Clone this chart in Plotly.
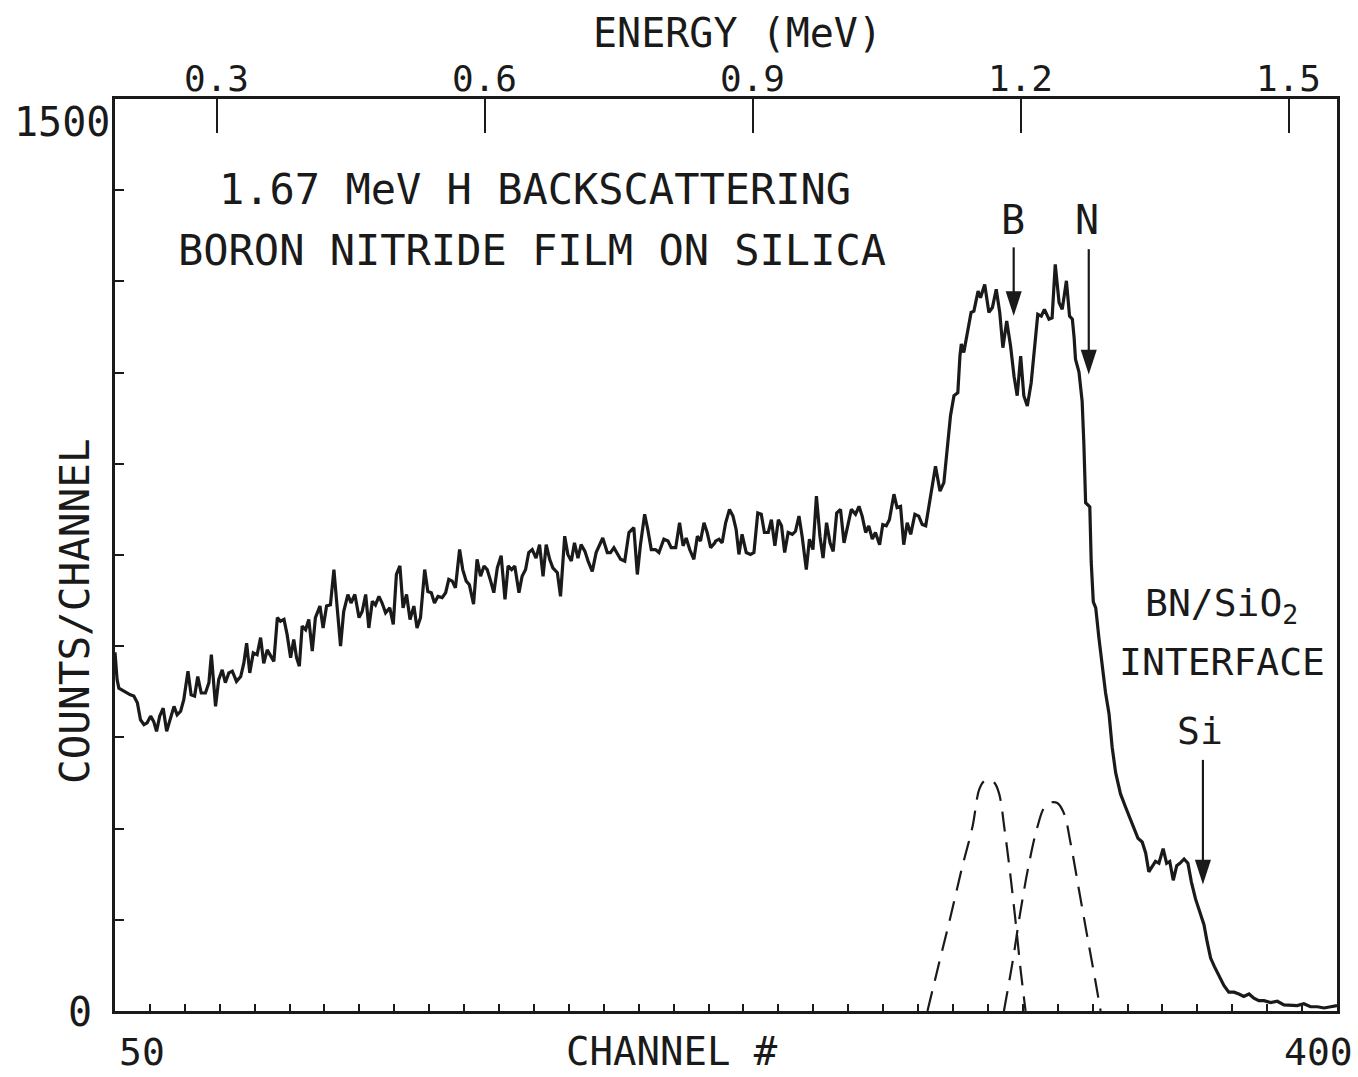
import plotly.graph_objects as go

# ---- measured spectrum (channel, counts/channel) ----
channels = [
    50.0, 50.6, 51.1, 52.5, 53.5, 54.4, 55.4, 56.4, 57.3, 58.3, 59.2, 60.2, 61.1, 61.9, 62.8, 63.8, 64.8, 65.7,
    66.9, 67.8, 68.8, 69.7, 70.9, 71.8, 72.8, 73.7, 74.7, 75.9, 76.9, 77.6, 78.8, 79.7, 80.7, 81.6, 82.6, 83.6,
    84.8, 86.0, 86.9, 87.7, 88.6, 89.6, 90.7, 91.7, 92.6, 93.6, 94.5, 95.5, 96.5, 97.4, 98.4, 99.3, 100.3, 101.2,
    102.0, 102.8, 103.6, 104.6, 105.5, 106.5, 107.4, 108.7, 109.6, 110.6, 111.7, 112.7, 113.6, 114.6, 115.5,
    116.7, 117.6, 118.7, 119.9, 120.8, 121.8, 122.7, 123.7, 124.6, 125.6, 126.5, 127.5, 128.7, 129.7, 130.6,
    131.6, 132.5, 133.5, 134.5, 135.6, 136.5, 137.5,
    138.7, 139.6, 140.6, 141.5, 142.5, 143.7, 144.7, 145.6, 146.6, 147.5, 148.7, 149.6, 150.6, 151.5, 152.7,
    153.7, 154.7, 155.7, 156.6, 157.6, 158.5, 159.5, 160.6, 161.7, 162.6, 163.6, 164.5, 165.7, 166.6, 167.6,
    168.5, 169.5, 170.6, 171.6, 172.6, 173.5, 174.5, 175.4, 176.7, 177.6, 178.8, 179.7, 180.7, 181.6, 182.6,
    183.5, 184.6, 185.5, 186.7, 187.8, 188.8, 189.7, 191.0, 191.9, 192.9, 193.9, 194.8, 196.0, 197.2, 198.6,
    199.6, 200.5, 201.7, 202.6, 203.6, 204.8, 205.8, 207.2, 208.4, 209.3, 210.6, 211.7, 212.7, 213.6, 214.6,
    215.8, 216.8, 217.7, 218.7, 219.6, 220.6, 221.8,
    222.0, 223.0, 223.9, 224.9, 226.0, 227.0, 227.9, 228.7, 229.6, 230.8, 232.0, 233.0, 234.1, 235.1, 236.0,
    237.1, 238.0, 239.0, 240.0, 240.9, 241.8, 242.8, 244.0, 244.9, 245.9, 246.8, 248.0, 248.9, 249.9, 250.9,
    251.9, 252.8, 253.8, 254.8, 255.7, 256.7, 257.8, 258.8, 259.7, 260.9, 262.1, 263.1, 264.0, 265.0, 265.9,
    266.9, 267.8, 269.0, 269.9, 270.9, 271.8, 273.1, 274.0, 275.0, 275.9, 276.9, 277.9, 279.1, 280.2, 281.2,
    282.2, 283.1,
    283.6, 285.0, 286.3, 287.4, 288.4, 289.3, 290.3, 291.4, 292.0, 292.4, 293.1, 294.1, 295.2, 296.0, 297.2,
    297.9, 299.1, 300.3, 301.3, 302.4, 303.4, 304.3, 305.4, 306.5, 307.5, 308.4, 309.4, 310.3, 311.3, 312.4,
    313.4, 314.3, 315.3, 316.2, 317.5, 318.4, 319.3, 320.4, 321.3, 322.5, 323.4, 324.2, 324.7,
    325.1, 326.1, 327.0, 327.5, 328.0, 329.2, 329.6, 330.2, 330.9, 331.8, 332.8, 333.7, 334.7, 335.6, 336.6,
    338.0, 339.4, 340.7, 341.8, 343.0, 344.2, 345.2, 346.1, 347.1, 348.0, 349.0, 350.2, 351.2, 352.1, 353.1,
    354.1, 355.0, 356.2, 357.3, 358.3, 359.5, 360.7, 361.9, 362.8, 363.8, 364.9, 366.2, 367.6, 369.0, 370.5,
    371.9, 373.3, 374.8, 376.2, 377.6, 379.1, 381.0, 382.9, 384.8, 386.7, 388.6, 390.5, 392.4, 394.4, 396.3,
    398.2, 400.0,
]
counts = [
    590, 545, 531, 526, 523, 520, 518, 507, 479, 471, 474, 485, 476, 460, 485, 498, 460, 479,
    501, 487, 493, 512, 559, 520, 518, 550, 523, 523, 540, 586, 501, 545, 561, 540, 556, 559,
    542, 550, 572, 605, 556, 589, 586, 614, 572, 594, 586, 575, 647, 641, 644, 619, 581, 611,
    581, 567, 633, 627, 644, 592, 647, 666, 630, 666, 668, 726, 666, 600, 657,
    685, 671, 685, 647, 657, 685, 630, 674, 668, 682, 671, 655, 663, 636, 718,
    732, 663, 685, 644, 666, 630, 647,
    726, 690, 688, 671, 682, 680, 688, 710, 707, 696, 759, 726, 707, 701, 669,
    743, 715, 732, 726, 707, 688, 729, 749, 677, 732, 726, 732, 688, 715, 726,
    754, 759, 745, 767, 715, 767, 743, 729, 721, 682, 781, 751, 740, 770, 745,
    767, 756, 740, 723, 754, 767, 778, 754, 754, 762, 751, 743, 740, 787, 795,
    718, 767, 817, 792, 759, 759, 754, 776, 773, 762, 762, 803, 765, 778, 759,
    743, 781, 773, 803, 787, 762, 770,
    773, 776, 770, 803, 825, 814, 792, 751, 784, 754, 751, 754, 819, 817, 787,
    787, 808, 765, 808, 798, 754, 787, 784, 789, 814, 781, 726, 776, 759, 847,
    781, 745, 803, 770, 756, 819, 825, 770, 792, 825, 817, 830, 814, 787, 798,
    776, 787, 767, 800, 798, 808, 850, 828, 830, 767, 803, 784, 817, 814, 800,
    798, 825,
    847, 896, 855, 869, 924, 979, 1012, 1017, 1077, 1097, 1083, 1116, 1149, 1151, 1184,
    1173, 1195, 1149, 1157, 1187, 1149, 1091, 1135, 1094, 1044, 1012, 1077, 1012, 995, 1033,
    1088, 1146, 1143, 1154, 1138, 1140, 1228, 1165, 1154, 1201, 1143, 1138, 1108,
    1072, 1051, 1003, 933, 836, 829, 739, 673, 663, 614, 566, 524, 489, 434, 392,
    357, 336, 316, 302, 284, 278, 260, 229, 239, 246, 243, 267, 243, 246, 215,
    239, 243, 250, 243, 212, 184, 163, 142, 114, 87, 73, 59, 42, 31, 31,
    28, 24, 28, 21, 17, 17, 14, 16, 10, 10, 9, 12, 7, 7, 5,
    7, 9,
]

# ---- simulated B and N contributions (dashed) ----
b_channels = [282.7, 286.0, 289.3, 292.7, 295.6, 297.5, 298.9, 300.3, 301.8, 303.2, 304.8, 306.5, 308.0, 309.4, 310.8]
b_counts = [0, 78, 155, 238, 303, 364, 378, 380, 376, 358, 298, 221, 144, 67, 0]
n_channels = [304.6, 307.0, 309.4, 311.8, 314.2, 316.1, 318.0, 319.9, 321.8, 323.7, 326.1, 328.5, 330.9, 332.3]
n_counts = [0, 78, 166, 243, 303, 334, 343, 342, 325, 276, 199, 122, 46, 0]

# ---- axes ----
channel_range = [50, 400]
count_range = [0, 1500]
channel_ticks = list(range(50, 401, 10))
count_ticks = list(range(0, 1501, 150))
energy_ticks = [0.3, 0.6, 0.9, 1.2, 1.5]
energy_labels = ["0.3", "0.6", "0.9", "1.2", "1.5"]
# energy calibration: (channel, MeV)
cal_channels = [79.2, 386.2]
cal_energies = [0.3, 1.5]
slope = (cal_energies[1] - cal_energies[0]) / (cal_channels[1] - cal_channels[0])
energy_range = [cal_energies[0] + (c - cal_channels[0]) * slope for c in channel_range]

# ---- element markers: label -> (channel, arrow tail counts, arrow tip counts) ----
marker_names = ["B", "N", "Si"]
marker_channels = [307.4, 328.9, 361.6]
marker_tails = [1256, 1253, 413]
marker_tips = [1143, 1047, 208]

FONT = "DejaVu Sans Mono"
INK = "#1a1a1a"

fig = go.Figure()
fig.add_trace(go.Scatter(x=channels, y=counts, mode="lines",
                         line=dict(color=INK, width=3.2), xaxis="x", yaxis="y"))
for cx, cy in [(b_channels, b_counts), (n_channels, n_counts)]:
    fig.add_trace(go.Scatter(x=cx, y=cy, mode="lines",
                             line=dict(color=INK, width=2.2, dash="20px,11px", shape="spline")))
# arrow stems
for ch, tail, tip in zip(marker_channels, marker_tails, marker_tips):
    fig.add_trace(go.Scatter(x=[ch, ch], y=[tail, tip + 20], mode="lines",
                             line=dict(color=INK, width=2.2)))
# arrow heads (tip of the 'arrow' symbol sits on the data point)
fig.add_trace(go.Scatter(x=marker_channels, y=marker_tips, mode="markers",
                         marker=dict(symbol="arrow", angle=180, size=26, color=INK,
                                     line=dict(width=0))))
# invisible trace to activate top axis
fig.add_trace(go.Scatter(x=energy_range, y=[None, None], xaxis="x2", yaxis="y",
                         mode="lines", showlegend=False))

L, R, T, B = 115, 1337, 99, 1011
W, H = 1358, 1077


def px(x):
    return (x - L) / (R - L)


def py(y):
    return (B - y) / (B - T)


fig.update_layout(
    width=W, height=H,
    margin=dict(l=L, r=W - R, t=T, b=H - B, pad=0),
    paper_bgcolor="white", plot_bgcolor="white",
    showlegend=False,
    font=dict(family=FONT, color=INK),
    xaxis=dict(range=channel_range, tickvals=channel_ticks, ticks="inside", ticklen=7,
               tickwidth=2, tickcolor=INK, showticklabels=False, showgrid=False, zeroline=False,
               showline=True, linewidth=3, linecolor=INK, mirror=True),
    xaxis2=dict(range=energy_range, overlaying="x", side="top", tickvals=energy_ticks,
                ticks="inside", ticklen=34, tickwidth=2, tickcolor=INK,
                showticklabels=False, showgrid=False, zeroline=False,
                showline=True, linewidth=3, linecolor=INK),
    yaxis=dict(range=count_range, tickvals=count_ticks, ticks="inside", ticklen=9, tickwidth=2,
               tickcolor=INK, showticklabels=False, showgrid=False, zeroline=False,
               showline=True, linewidth=3, linecolor=INK, mirror=True),
)

ann = []


def text(x, y, s, size=41, angle=0, yanchor="middle"):
    ann.append(dict(x=x, y=y, xref="paper", yref="paper", text=s, showarrow=False,
                    xanchor="center", yanchor=yanchor, textangle=angle,
                    font=dict(family=FONT, size=size, color=INK)))


# top axis tick labels placed on the energy axis
for e, lab in zip(energy_ticks, energy_labels):
    ann.append(dict(x=e, y=py(78), xref="x2", yref="paper", text=lab, showarrow=False,
                    xanchor="center", yanchor="middle",
                    font=dict(family=FONT, size=36, color=INK)))

text(px(737), py(33), "ENERGY (MeV)", size=40)
text(px(75), py(611), "COUNTS/CHANNEL", angle=-90)
text(px(672), py(1076), "CHANNEL #", size=39, yanchor="bottom")
text(px(142), py(1076), "50", size=38, yanchor="bottom")
text(px(1318), py(1076), "400", size=38, yanchor="bottom")
text(px(80), py(1012), "0", size=40)
text(px(62), py(122), "1500", size=40)
text(px(535), py(190), "1.67 MeV H BACKSCATTERING", size=42)
text(px(532), py(251), "BORON NITRIDE FILM ON SILICA", size=42)
text(px(1013), py(220), "B", size=40)
text(px(1087), py(220), "N", size=40)
text(px(1221), py(605), "BN/SiO<sub>2</sub>", size=38)
text(px(1222), py(662), "INTERFACE", size=38)
text(px(1200), py(731), "Si", size=38)

fig.update_layout(annotations=ann)
fig.write_html("out.html", config={"displayModeBar": False},
               post_script="document.body.style.margin='0';document.body.style.overflow='hidden';")
